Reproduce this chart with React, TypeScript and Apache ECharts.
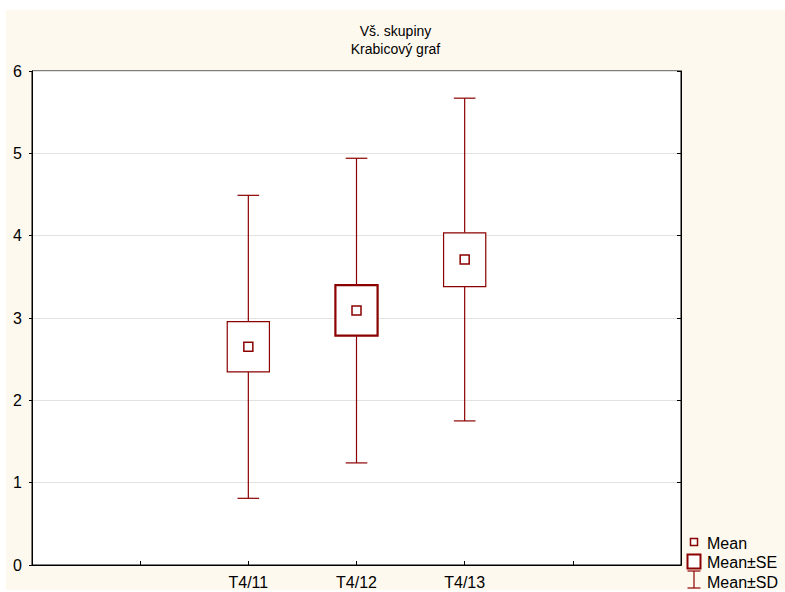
import React, { useEffect, useRef } from "react";
import * as echarts from "echarts";

const categories = ["", "", "T4/11", "T4/12", "T4/13", "", ""];
const groupIndex = [2, 3, 4];
const means = [2.65, 3.09, 3.71];
const seLow = [2.345, 2.785, 3.38];
const seHigh = [2.955, 3.4, 4.035];
const sdLow = [0.81, 1.24, 1.75];
const sdHigh = [4.49, 4.94, 5.67];
const yTicks = [0, 1, 2, 3, 4, 5, 6];
const titleLines = ["Vš. skupiny", "Krabicový graf"];
const legendLabels = ["Mean", "Mean±SE", "Mean±SD"];

const RED = "#8B0000";
const FONT = "'Liberation Sans', Arial, sans-serif";

export default function App() {
  const ref = useRef<HTMLDivElement>(null);
  useEffect(() => {
    if (!ref.current) return;
    const chart = echarts.init(ref.current, null, { renderer: "svg" });
    const data = groupIndex.map((g, i) => [g, means[i], seLow[i], seHigh[i], sdLow[i], sdHigh[i], i]);
    const option: any = {
      animation: false,
      backgroundColor: "#FEF9EE",
      title: {
        text: titleLines.join("\n"),
        left: "center",
        top: 12,
        padding: 0,
        textStyle: { fontFamily: FONT, fontSize: 14, fontWeight: "normal", color: "#000", lineHeight: 18 },
      },
      grid: {
        left: 26,
        top: 61,
        right: 104,
        bottom: 25,
        show: true,
        backgroundColor: "#fff",
        borderColor: "#000",
        borderWidth: 1,
      },
      xAxis: [
        {
          type: "category",
          data: categories,
          boundaryGap: false,
          position: "bottom",
          axisLine: { lineStyle: { color: "#000", width: 1 } },
          axisTick: { inside: true, length: 4, lineStyle: { color: "#000" }, interval: 0 },
          axisLabel: { interval: 0, color: "#000", fontFamily: FONT, fontSize: 16, margin: 9 },
          splitLine: { show: false },
        },
        {
          type: "category",
          data: categories,
          boundaryGap: false,
          position: "top",
          axisLine: { lineStyle: { color: "#000", width: 1 } },
          axisTick: { inside: false, length: 3, lineStyle: { color: "#000" }, interval: 0 },
          axisLabel: { show: false },
          splitLine: { show: false },
        },
      ],
      yAxis: [
        {
          type: "value",
          min: yTicks[0],
          max: yTicks[yTicks.length - 1],
          interval: 1,
          position: "left",
          axisLine: { show: true, lineStyle: { color: "#000", width: 1 } },
          axisTick: { show: true, inside: false, length: 3, lineStyle: { color: "#000" } },
          axisLabel: { color: "#000", fontFamily: FONT, fontSize: 16, margin: 10 },
          splitLine: { show: true, lineStyle: { color: "#e2e2e2", width: 1 } },
        },
        {
          type: "value",
          min: yTicks[0],
          max: yTicks[yTicks.length - 1],
          interval: 1,
          position: "right",
          axisLine: { show: true, lineStyle: { color: "#000", width: 1 } },
          axisTick: { show: true, inside: true, length: 4, lineStyle: { color: "#000" } },
          axisLabel: { show: false },
          splitLine: { show: false },
        },
      ],
      series: [
        {
          type: "custom",
          xAxisIndex: 0,
          yAxisIndex: 0,
          data,
          renderItem: (params: any, api: any) => {
            const x = api.value(0);
            const bw = api.size([1, 0])[0];
            const boxW = bw * 0.39;
            const capW = bw * 0.2;
            const markW = 9;
            const pMean = api.coord([x, api.value(1)]);
            const pSeL = api.coord([x, api.value(2)]);
            const pSeH = api.coord([x, api.value(3)]);
            const pSdL = api.coord([x, api.value(4)]);
            const pSdH = api.coord([x, api.value(5)]);
            const cx = pMean[0];
            const thick = api.value(6) === 1 ? 2.2 : 1.2;
            const ls = { stroke: RED, lineWidth: 1.2, fill: "none" };
            return {
              type: "group",
              children: [
                { type: "line", shape: { x1: cx, y1: pSdH[1], x2: cx, y2: pSeH[1] }, style: ls },
                { type: "line", shape: { x1: cx, y1: pSeL[1], x2: cx, y2: pSdL[1] }, style: ls },
                { type: "line", shape: { x1: cx - capW / 2, y1: pSdH[1], x2: cx + capW / 2, y2: pSdH[1] }, style: ls },
                { type: "line", shape: { x1: cx - capW / 2, y1: pSdL[1], x2: cx + capW / 2, y2: pSdL[1] }, style: ls },
                {
                  type: "rect",
                  shape: { x: cx - boxW / 2, y: pSeH[1], width: boxW, height: pSeL[1] - pSeH[1] },
                  style: { stroke: RED, lineWidth: thick, fill: "#fff" },
                },
                {
                  type: "rect",
                  shape: { x: cx - markW / 2, y: pMean[1] - markW / 2, width: markW, height: markW },
                  style: { stroke: RED, lineWidth: 1.5, fill: "#fff" },
                },
              ],
            };
          },
        },
      ],
      graphic: [
        { type: "rect", shape: { x: 684.5, y: 528.5, width: 7, height: 7 }, style: { stroke: RED, lineWidth: 1.5, fill: "#fff" } },
        { type: "rect", shape: { x: 681.5, y: 544.5, width: 13, height: 14 }, style: { stroke: RED, lineWidth: 2, fill: "#fff" } },
        { type: "line", shape: { x1: 688, y1: 561, x2: 688, y2: 578 }, style: { stroke: RED, lineWidth: 1.2 } },
        { type: "line", shape: { x1: 681.5, y1: 561, x2: 694.5, y2: 561 }, style: { stroke: RED, lineWidth: 1.2 } },
        { type: "line", shape: { x1: 681.5, y1: 578, x2: 694.5, y2: 578 }, style: { stroke: RED, lineWidth: 1.2 } },
        ...legendLabels.map((t, i) => ({
          type: "text",
          x: 701,
          y: 533 + i * 19.5,
          style: { text: t, fontFamily: FONT, fontSize: 16, fill: "#000", textVerticalAlign: "middle", verticalAlign: "middle" },
        })),
      ],
    };
    chart.setOption(option);
    return () => chart.dispose();
  }, []);
  return (
    <div
      ref={ref}
      style={{ position: "absolute", left: 6, top: 10, width: 779, height: 580 }}
    />
  );
}
